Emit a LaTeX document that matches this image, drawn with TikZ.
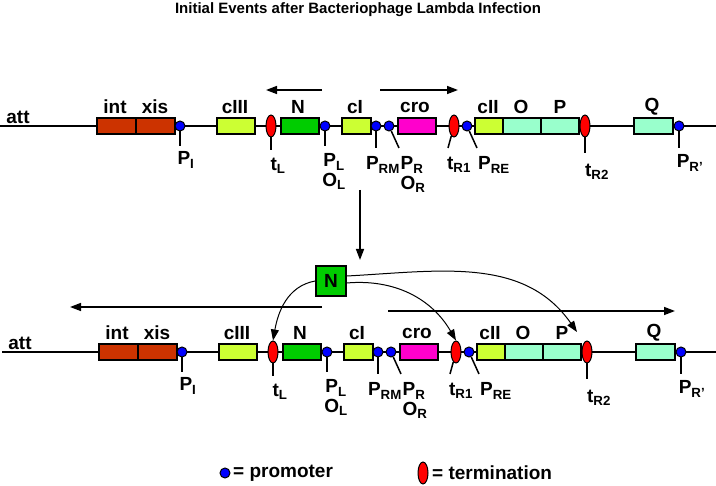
\documentclass[tikz,border=0pt]{standalone}
\usepackage{fontspec}
\setmainfont{Liberation Sans}
\usetikzlibrary{shapes.geometric,arrows.meta}
\definecolor{rust}{HTML}{CC3300}
\definecolor{lim}{HTML}{CCFF33}
\definecolor{grn}{HTML}{00CC00}
\definecolor{aqua}{HTML}{99FFCC}
\definecolor{mag}{HTML}{FF00CC}
\begin{document}
\begin{tikzpicture}[x=1pt,y=-1pt,font=\bfseries\fontsize{19}{20}\selectfont,
  gene/.style={draw,line width=1.5pt,minimum height=16pt,inner sep=0pt,anchor=west},
  prom/.style={circle,fill=blue,draw,line width=1pt,minimum size=10pt,inner sep=0pt},
  term/.style={ellipse,fill=red,draw,line width=1pt,minimum width=10pt,minimum height=22pt,inner sep=0pt},
  lab/.style={inner sep=1pt},
  tick/.style={line width=1.5pt},
  arr/.style={line width=1.5pt,-{Triangle[length=11pt,width=8pt]}}]
\useasboundingbox (0,0) rectangle (716,486);
\node[font=\bfseries\fontsize{15}{16}\selectfont] (title) at (358,10) {Initial Events after Bacteriophage Lambda Infection};
\newcommand\lambdarow{%
  \coordinate (L) at (0,0); \coordinate (R) at (716,0);
  \draw[line width=1.5pt] (L) -- (R);
  \node[gene,fill=rust,minimum width=39pt] (int) at (96,0) {};
  \node[gene,fill=rust,minimum width=39pt] (xis) at (135,0) {};
  \node[gene,fill=lim,minimum width=38pt] (cIII) at (216,0) {};
  \node[gene,fill=grn,minimum width=38pt] (N) at (280,0) {};
  \node[gene,fill=lim,minimum width=29pt] (cI) at (341,0) {};
  \node[gene,fill=mag,minimum width=38pt] (cro) at (397,0) {};
  \node[gene,fill=lim,minimum width=28pt] (cII) at (474,0) {};
  \node[gene,fill=aqua,minimum width=38pt] (O) at (502,0) {};
  \node[gene,fill=aqua,minimum width=38pt] (P) at (540,0) {};
  \node[gene,fill=aqua,minimum width=39pt] (Q) at (633,0) {};
  \node[prom] (PI) at (180,0) {};
  \node[term] (tL) at (271,0) {};
  \node[prom] (PL) at (325,0) {};
  \node[prom] (PRM) at (376,0) {};
  \node[prom] (PR) at (389,0) {};
  \node[term] (tR1) at (454,0) {};
  \node[prom] (PRE) at (467,0) {};
  \node[term] (tR2) at (585,0) {};
  \node[prom] (PRp) at (679,0) {};
  \node[lab] (tatt) at (18,-9) {att};
  \node[lab] (tint) at (115,-19) {int};
  \node[lab] (txis) at (155,-19) {xis};
  \node[lab] (tcIII) at (235,-19) {cIII};
  \node[lab] (tN) at (298,-19) {N};
  \node[lab] (tcI) at (355,-19) {cI};
  \node[lab] (tcro) at (415,-19) {cro};
  \node[lab] (tcII) at (488,-19) {cII};
  \node[lab] (tO) at (521,-19) {O};
  \node[lab] (tP) at (560,-19) {P};
  \node[lab] (tQ) at (652,-19) {Q};
  \node[lab] (lPI) at (186,34) {P\textsubscript{I}};
  \node[lab] (ltL) at (278,40) {t\textsubscript{L}};
  \node[lab] (lPL) at (334,36) {P\textsubscript{L}};
  \node[lab] (lOL) at (334,55) {O\textsubscript{L}};
  \node[lab] (lPRM) at (383,39) {P\textsubscript{RM}};
  \node[lab] (lPR) at (412,39) {P\textsubscript{R}};
  \node[lab] (lOR) at (413,58) {O\textsubscript{R}};
  \node[lab] (ltR1) at (459,39) {t\textsubscript{R1}};
  \node[lab] (lPRE) at (494,39) {P\textsubscript{RE}};
  \node[lab] (ltR2) at (597,46) {t\textsubscript{R2}};
  \node[lab] (lPRp) at (690,37) {P\textsubscript{R'}};
  \draw[tick] (PI) -- (180,20);
  \draw[tick] (tL) -- (271,24);
  \draw[tick] (PL) -- (325,20);
  \draw[tick] (PRM) -- (376,22);
  \draw[tick] (PR) -- (399,22);
  \draw[tick] (tR1) -- (448,22);
  \draw[tick] (PRE) -- (477,22);
  \draw[tick] (tR2) -- (585,27);
  \draw[tick] (PRp) -- (679,22);
}
\begin{scope}[shift={(0,126)},name prefix=a-]
  \lambdarow
  \coordinate (al1) at (322,-36); \coordinate (al2) at (266,-36);
  \coordinate (ar1) at (380,-36); \coordinate (ar2) at (458,-36);
  \draw[arr] (al1) -- (al2);
  \draw[arr] (ar1) -- (ar2);
\end{scope}
\begin{scope}[shift={(2,352)},name prefix=b-]
  \lambdarow
  \coordinate (bl1) at (320,-45); \coordinate (bl2) at (68,-45);
  \coordinate (br1) at (386,-41); \coordinate (br2) at (673,-41);
  \draw[arr] (bl1) -- (bl2);
  \draw[arr] (br1) -- (br2);
\end{scope}
\node[draw,line width=1.5pt,fill=grn,minimum size=30pt,inner sep=0pt] (Nbox) at (331,281) {N};
\coordinate (down1) at (360,190); \coordinate (down2) at (360,260);
\draw[arr] (down1) -- (down2);
\draw[arr,line width=1pt] (Nbox.west) to[out=190,in=80] (b-tL.north);
\draw[arr,line width=1pt] (Nbox.east) ++(0,2) to[out=5,in=120] (b-tR1.north);
\draw[arr,line width=1pt] (Nbox.east) ++(0,-5) to[out=3,in=125] (577,332);
\node[prom] (legP) at (225,473) {};
\node[lab,anchor=west] (legPt) at (232,473) {= promoter};
\node[term] (legT) at (423,473) {};
\node[lab,anchor=west] (legTt) at (431,473) {= termination};
\end{tikzpicture}
\end{document}
